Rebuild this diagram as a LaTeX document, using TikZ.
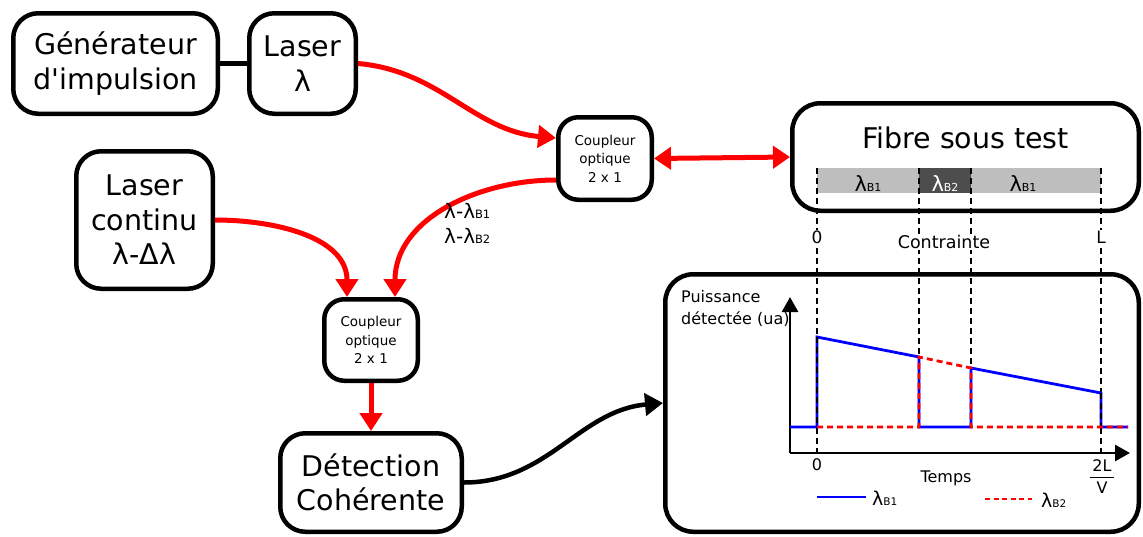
\documentclass[tikz,border=0pt]{standalone}
\usepackage{fontspec}
\setmainfont{DejaVu Sans}[Ligatures=TeXOff]
\usetikzlibrary{arrows.meta,calc}
\newcommand\fsz[2]{\fontsize{#1pt}{#2pt}\selectfont}
% lambda with a small "B" index set on the baseline
\newcommand\lamB[2]{λ{\fsz{#1}{#1}B#2}}
\definecolor{lightbar}{HTML}{BEBEBE}
\definecolor{darkbar}{HTML}{4D4D4D}
\tikzset{
  box/.style={draw, line width=4.5pt, rounded corners=22pt, fill=white, align=center, inner sep=0pt},
  bigtxt/.style={font=\fsz{28.5}{34.5}},
  cpltxt/.style={font=\fsz{13.5}{18.5}},
  redarrow/.style={draw=red, line width=5pt, -{Triangle[length=18pt,width=22pt]}},
  blackarrow/.style={draw=black, line width=4.5pt, -{Triangle[length=18pt,width=22pt]}},
  axisline/.style={draw=black, line width=2.8pt, -{Triangle[length=15pt,width=16pt]}},
  guide/.style={draw=black, line width=1.2pt, dash pattern=on 6pt off 4pt},
  bluecurve/.style={draw=blue, line width=2.8pt},
  redcurve/.style={draw=red, line width=2.8pt, dash pattern=on 6pt off 4pt},
  plottxt/.style={font=\fsz{16}{19}, inner sep=1pt},
}
\begin{document}
\begin{tikzpicture}[x=1pt,y=-1pt]
\useasboundingbox (0,0) rectangle (1143,536);

% --- source side ---
\node[box,bigtxt,rounded corners=25pt,minimum width=204.5pt,minimum height=100.5pt] (gen) at (115.5,63.5) {Générateur\\d'impulsion};
\node[box,bigtxt,rounded corners=25pt,minimum width=106.5pt,minimum height=100.5pt] (laser) at (302.5,63.5) {Laser\\λ};
\node[box,bigtxt,rounded corners=25pt,minimum width=136.5pt,minimum height=137.5pt] (cw) at (144.5,220) {Laser\\continu\\λ-Δλ};
\node[box,cpltxt,rounded corners=20pt,minimum width=93.5pt,minimum height=82.5pt] (c1) at (605,158.5) {Coupleur\\optique\\2 x 1};
\node[box,cpltxt,rounded corners=20pt,minimum width=93.5pt,minimum height=81.5pt] (c2) at (371,340) {Coupleur\\optique\\2 x 1};
\node[box,bigtxt,rounded corners=25pt,minimum width=181.5pt,minimum height=98.5pt] (det) at (371,482.5) {Détection\\Cohérente};

% --- fibre under test ---
\node[box,rounded corners=28pt,minimum width=346.5pt,minimum height=107.5pt] (fibre) at (965.5,157) {};
\node[font=\fsz{28.5}{34.5}] (fibretitle) at (965.5,138) {Fibre sous test};
\fill[lightbar] (817,168) rectangle (1101,193);
\fill[darkbar] (919,168) rectangle (971,193);
\node[font=\fsz{21}{24}, anchor=base] (b1a) at (868,191) {\lamB{11}{1}};
\node[font=\fsz{21}{24}, anchor=base, text=white] (b2) at (945,191) {\lamB{11}{2}};
\node[font=\fsz{21}{24}, anchor=base] (b1b) at (1023,191) {\lamB{11}{1}};

% --- detected power plot ---
\node[box,rounded corners=28pt,minimum width=473.5pt,minimum height=257.5pt] (graph) at (902,403) {};

% position guides running from the fibre down to the time axis
\draw[guide] (817,168) -- (817,457);
\draw[guide] (919,168) -- (919,427);
\draw[guide] (971,168) -- (971,427);
\draw[guide] (1101,168) -- (1101,457);

\node[plottxt, fill=white, font=\fsz{17}{20}] (zero) at (817,237) {0};
\node[plottxt, fill=white, font=\fsz{17}{20}] (ell) at (1101,237) {L};
\node[plottxt, fill=white, font=\fsz{17.5}{20}] (contr) at (944,242) {Contrainte};

\node[plottxt, anchor=base west] (ylab1) at (680,302) {Puissance};
\node[plottxt, anchor=base west] (ylab2) at (680,324) {détectée (ua)};

\coordinate (orig) at (790,453);
\coordinate (ytip) at (790,297);
\coordinate (xtip) at (1130,453);
\draw[axisline] (orig) -- (ytip);
\draw[axisline] (orig) -- (xtip);

\draw[bluecurve] (790,427) -- (817,427) -- (817,337) -- (919,357) -- (919,427) -- (971,427)
  -- (971,368) -- (1101,393) -- (1101,427) -- (1128,427);
\draw[guide] (817,337) -- (817,427);
\draw[guide] (1101,393) -- (1101,427);
\draw[redcurve] (817,427) -- (919,427) -- (919,357) -- (971,368) -- (971,427) -- (1128,427);

\node[plottxt] (t0) at (817,465) {0};
\node[plottxt] (temps) at (946,478) {Temps};
\node[plottxt] (twoL) at (1102,466) {2L};
\node[plottxt] (vee) at (1102,488) {V};
\draw[line width=1.2pt] (1090,477.5) -- (1114,477.5);

\coordinate (lgb1) at (817,497);
\coordinate (lgb2) at (866,497);
\draw[bluecurve] (lgb1) -- (lgb2);
\node[font=\fsz{19}{22}, anchor=base west, inner sep=0pt] (lb1) at (872,505) {\lamB{10.5}{1}};
\coordinate (lgr1) at (985,499);
\coordinate (lgr2) at (1032,499);
\draw[redcurve, dash pattern=on 5pt off 3.5pt] (lgr1) -- (lgr2);
\node[font=\fsz{19}{22}, anchor=base west, inner sep=0pt] (lb2) at (1041,507) {\lamB{10.5}{2}};

% --- connections ---
\draw[line width=4.5pt] (gen.east) -- (laser.west);
\draw[redarrow] (laser.east) to[out=-5,in=175] ([yshift=20.5pt]c1.west);
\draw[redarrow, {Triangle[length=17pt,width=22pt]}-{Triangle[length=17pt,width=22pt]}] (c1.east) -- (fibre.west);
\draw[redarrow] ([yshift=-21.5pt]c1.west) to[out=180,in=90] ([xshift=24pt]c2.north);
\draw[redarrow] (cw.east) to[out=0,in=90] ([xshift=-24pt]c2.north);
\draw[redarrow] (c2.south) -- (det.north);
\draw[blackarrow] (det.east) to[out=0,in=185] (graph.west);

\node[font=\fsz{20}{25}, align=left, anchor=north west, inner sep=0pt] (lamlbl) at (444,203) {λ-\lamB{11.5}{1}\\λ-\lamB{11.5}{2}};
\end{tikzpicture}
\end{document}
